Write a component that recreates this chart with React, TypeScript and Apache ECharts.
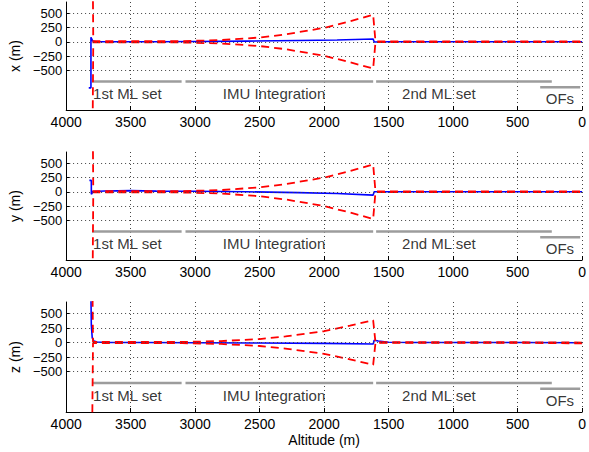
import React, { useEffect, useRef } from 'react';
import * as echarts from 'echarts';

// ---- axis ticks / labels ----
const yTickValues = [-500, -250, 0, 250, 500];
const panelNames = ['x (m)', 'y (m)', 'z (m)'];
const xAxisTitle = 'Altitude (m)';

// ---- mission phases (annotation bars) ----
const phaseNames = ['1st ML set', 'IMU Integration', '2nd ML set', 'OFs'];
const phaseFrom = [3800, 3075, 1597, 325];
const phaseTo = [3105, 1620, 235, 15];
const phaseLevel = [-700, -700, -700, -800];
const labelAlt = [3795, 2790, 1400, 286];
const labelLevel = [-915, -915, -915, -1000];

// ---- x error (blue) ----
const xErrAlt = [3825, 3808, 3808, 3795, 3770, 3600, 3300, 3000, 2600, 2200, 1900, 1620, 1612, 1500, 1000, 500, 0];
const xErrVal = [-810, -810, 80, 15, 0, 0, 2, 5, 12, 22, 32, 48, -3, 0, 0, 0, 0];
// ---- x 3-sigma envelope (red) ----
const xSigAlt = [3800, 3790, 3600, 3300, 3100, 2800, 2500, 2300, 2000, 1800, 1620, 1602, 1400, 1000, 500, 0];
const xSigUp = [3000, 10, 10, 10, 12, 30, 75, 130, 245, 360, 475, 5, 5, 5, 5, 5];
const xSigLo = [-3000, -10, -10, -10, -12, -30, -75, -130, -245, -360, -470, -5, -5, -5, -5, -5];

// ---- y error (blue) ----
const yErrAlt = [3820, 3805, 3805, 3792, 3700, 3500, 3300, 3000, 2600, 2200, 1900, 1620, 1612, 1500, 1000, 500, 0];
const yErrVal = [200, 200, -45, 5, 15, 20, 12, 10, 0, -15, -30, -58, 0, 0, 0, 0, 0];
// ---- y 3-sigma envelope (red) ----
const ySigAlt = [3800, 3790, 3600, 3300, 3100, 2800, 2500, 2300, 2000, 1800, 1620, 1602, 1400, 1000, 500, 0];
const ySigUp = [3000, 10, 10, 10, 12, 30, 78, 135, 250, 365, 480, 5, 5, 5, 5, 5];
const ySigLo = [-3000, -10, -10, -10, -12, -30, -78, -135, -250, -365, -478, -5, -5, -5, -5, -5];

// ---- z error (blue) ----
const zErrAlt = [3808, 3805, 3798, 3785, 3760, 3700, 3400, 3000, 2500, 2000, 1620, 1612, 1580, 1500, 1300, 1000, 500, 0];
const zErrVal = [800, 300, 80, 25, 8, 2, 0, -3, -8, -15, -25, 40, 25, 5, 0, 0, 0, -5];
// ---- z 3-sigma envelope (red) ----
const zSigAlt = [3805, 3792, 3600, 3300, 3100, 2800, 2500, 2300, 2000, 1800, 1620, 1602, 1400, 1000, 500, 0];
const zSigUp = [3000, 10, 10, 10, 10, 25, 60, 105, 195, 290, 385, 5, 5, 5, 5, 0];
const zSigLo = [-3000, -10, -10, -10, -10, -25, -60, -105, -195, -290, -385, -5, -5, -5, -5, -15];

const errAlts = [xErrAlt, yErrAlt, zErrAlt];
const errVals = [xErrVal, yErrVal, zErrVal];
const sigAlts = [xSigAlt, ySigAlt, zSigAlt];
const sigUps = [xSigUp, ySigUp, zSigUp];
const sigLos = [xSigLo, ySigLo, zSigLo];

const FONT = '"Liberation Sans", Arial, Helvetica, sans-serif';
const gridTops = [2, 152, 302];
const gridHeights = [108, 108, 110];

const zip = (a: number[], b: number[]) => a.map((v, i) => [v, b[i]]);
const fmtY = (v: number) => (v < 0 ? '\u2212' + Math.abs(v) : String(v));

export default function App() {
  const ref = useRef<HTMLDivElement>(null);
  useEffect(() => {
    if (!ref.current) return;
    const chart = echarts.init(ref.current, undefined, { renderer: 'svg' });
    const grids: any[] = [];
    const xAxes: any[] = [];
    const yAxes: any[] = [];
    const series: any[] = [];
    for (let i = 0; i < 3; i++) {
      grids.push({ left: 66, top: gridTops[i], width: 518, height: gridHeights[i] });
      xAxes.push({
        gridIndex: i,
        type: 'value',
        min: 0,
        max: 4000,
        interval: 500,
        inverse: true,
        name: i === 2 ? xAxisTitle : '',
        nameLocation: 'middle',
        nameGap: 21,
        nameTextStyle: { fontSize: 14, color: '#000', fontFamily: FONT },
        axisLine: { onZero: false, lineStyle: { color: '#000', width: 1 } },
        axisTick: { inside: true, length: 4, lineStyle: { color: '#000' } },
        axisLabel: {
          fontSize: 14,
          color: '#000',
          margin: 5,
          fontFamily: FONT,
          formatter: (v: number) => String(v),
        },
        splitLine: { show: true, lineStyle: { color: '#444', width: 1, type: [1, 3] } },
      });
      yAxes.push({
        gridIndex: i,
        type: 'value',
        min: -1200,
        max: 700,
        name: panelNames[i],
        nameLocation: 'middle',
        nameGap: 44,
        nameTextStyle: { fontSize: 14, color: '#000', fontFamily: FONT },
        axisLine: { show: true, onZero: false, lineStyle: { color: '#000', width: 1 } },
        axisTick: { show: true, inside: true, length: 4, customValues: yTickValues, lineStyle: { color: '#000' } },
        axisLabel: {
          fontSize: 13,
          lineHeight: 13,
          color: '#000',
          margin: 4,
          customValues: yTickValues,
          fontFamily: FONT,
          formatter: fmtY,
        },
        splitLine: { show: false },
      });
      // phase bars
      for (let p = 0; p < phaseNames.length; p++) {
        series.push({
          type: 'line',
          xAxisIndex: i,
          yAxisIndex: i,
          data: [[phaseFrom[p], phaseLevel[p]], [phaseTo[p], phaseLevel[p]]],
          symbol: 'none',
          silent: true,
          z: 1,
          lineStyle: { color: '#9c9c9c', width: 2.5 },
          markLine:
            p === 0
              ? {
                  silent: true,
                  symbol: 'none',
                  label: { show: false },
                  lineStyle: { color: '#444', width: 1, type: [1, 3] },
                  data: yTickValues.map((v) => ({ yAxis: v })),
                }
              : undefined,
        });
      }
      // blue estimate error
      series.push({
        type: 'line',
        xAxisIndex: i,
        yAxisIndex: i,
        data: zip(errAlts[i], errVals[i]),
        symbol: 'none',
        z: 3,
        lineStyle: { color: '#0000ff', width: 1.6 },
      });
      // red envelope
      series.push({
        type: 'line',
        xAxisIndex: i,
        yAxisIndex: i,
        data: zip(sigAlts[i], sigUps[i]),
        symbol: 'none',
        z: 4,
        lineStyle: { color: '#ff0000', width: 1.8, type: [8, 5] },
      });
      series.push({
        type: 'line',
        xAxisIndex: i,
        yAxisIndex: i,
        data: zip(sigAlts[i], sigLos[i]),
        symbol: 'none',
        z: 4,
        lineStyle: { color: '#ff0000', width: 1.8, type: [8, 5] },
      });
      // phase labels
      series.push({
        type: 'scatter',
        xAxisIndex: i,
        yAxisIndex: i,
        silent: true,
        symbolSize: 1,
        itemStyle: { color: 'rgba(0,0,0,0)' },
        z: 5,
        data: phaseNames.map((n, p) => [labelAlt[p], labelLevel[p], n]),
        label: {
          show: true,
          position: 'right',
          distance: 0,
          formatter: (pp: any) => pp.data[2],
          fontSize: 15,
          color: '#000',
          fontFamily: FONT,
        },
      });
    }
    chart.setOption({
      animation: false,
      backgroundColor: '#fff',
      textStyle: { fontFamily: FONT },
      grid: grids,
      xAxis: xAxes,
      yAxis: yAxes,
      series,
    });
    return () => chart.dispose();
  }, []);
  return (
    <div
      ref={ref}
      style={{ position: 'fixed', left: 0, top: 0, width: 589, height: 452, background: '#fff' }}
    />
  );
}
